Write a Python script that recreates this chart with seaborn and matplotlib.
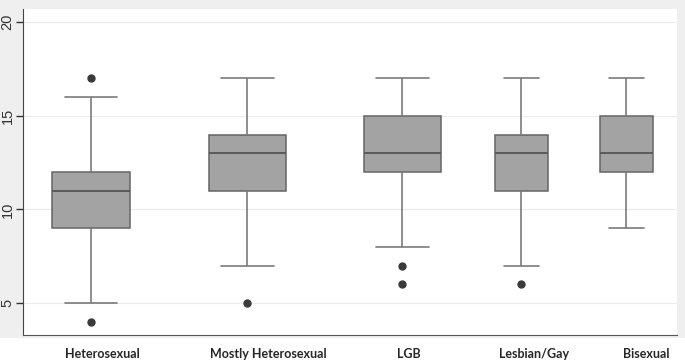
import matplotlib
matplotlib.use("Agg")
import matplotlib.pyplot as plt
import seaborn as sns
import pandas as pd
from matplotlib.patches import Rectangle

# data (values chosen so the box stats match the picture)
groups = ["Heterosexual", "Mostly Heterosexual", "LGB", "Lesbian/Gay", "Bisexual"]
heterosexual = [4, 5, 9, 9, 11, 12, 12, 16, 17]
mostly_het = [5, 7, 11, 11, 13, 14, 14, 17, 17]
lgb = [6, 7, 8, 12, 12, 12, 13, 15, 15, 15, 17, 17, 17]
lesbian_gay = [6, 7, 11, 11, 13, 14, 14, 17, 17]
bisexual = [9, 9, 12, 12, 13, 15, 15, 17, 17]
yticks = [5, 10, 15, 20]

# layout: the original has uneven spacing and two box widths
box_pos = [0, 1.0, 1.99, 2.75, 3.42]
label_pos = [0.07, 1.13, 2.03, 2.83, 3.55]

rows = []
for g, p, vals in zip(groups, box_pos,
                      [heterosexual, mostly_het, lgb, lesbian_gay, bisexual]):
    for v in vals:
        rows.append({"group": g, "pos": p, "value": v})
df = pd.DataFrame(rows)

sns.set_style("ticks", {"axes.edgecolor": "#444444"})
plt.rcParams["font.family"] = ["Liberation Sans", "DejaVu Sans"]

fig = plt.figure(figsize=(6.85, 3.61), dpi=100, facecolor="#efefef")
fig.patches.append(Rectangle((0, 0), 1, 23 / 361, transform=fig.transFigure,
                             facecolor="white", edgecolor="none", zorder=-5))
ax = fig.add_axes([23 / 685, 26 / 361, 654 / 685, 326 / 361])
ax.set_facecolor("white")

box_kw = dict(
    color="#a3a3a3", saturation=1, linecolor="#656565", linewidth=1.1,
    native_scale=True, orient="x", width=0.5,
    whiskerprops=dict(color="#7a7a7a", linewidth=1.2),
    capprops=dict(color="#7a7a7a", linewidth=1.2),
    medianprops=dict(color="#555555", linewidth=1.3),
    flierprops=dict(marker="o", markerfacecolor="#3a3a3a",
                    markeredgecolor="#3a3a3a", markersize=5),
)
first = df[df["group"].isin(groups[:3])]
second = df[df["group"].isin(groups[3:])]
sns.boxplot(data=first, x="pos", y="value", ax=ax, capwidths=0.335, **box_kw)
sns.boxplot(data=second, x="pos", y="value", ax=ax, capwidths=0.224, **box_kw)

ax.set_xlim(-0.434, 3.744)
ax.set_ylim(3.3, 20.7)
ax.set_yticks(yticks)
ax.set_yticklabels([str(t) for t in yticks], rotation=90, va="center",
                   ha="center", fontsize=10.5, color="#333333")
ax.tick_params(axis="y", which="major", left=True, length=5, width=1,
               color="#333333", pad=6, direction="out")
ax.set_xticks(label_pos)
ax.set_xticklabels(groups, fontsize=9, fontweight="bold", family="Lato")
ax.tick_params(axis="x", length=0, pad=9)
ax.set_xlabel("")
ax.set_ylabel("")
ax.grid(axis="y", color="#ebebeb", linewidth=0.8)
ax.set_axisbelow(True)
for s in ["top", "right"]:
    ax.spines[s].set_visible(False)
ax.spines["left"].set_color("#444444")
ax.spines["bottom"].set_color("#555555")

fig.savefig("out.png", dpi=100, facecolor=fig.get_facecolor())
